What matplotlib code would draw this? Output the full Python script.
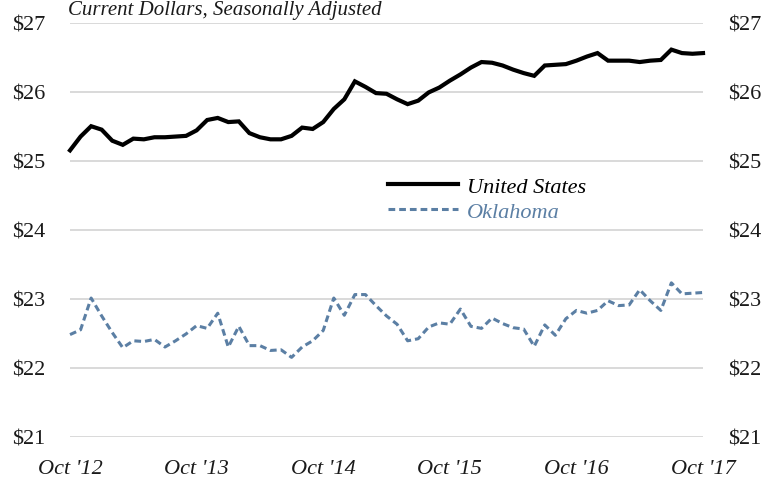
import numpy as np
import matplotlib.pyplot as plt

plt.rcParams['font.family'] = ['Liberation Serif', 'DejaVu Serif']

# monthly, Oct 2012 .. Oct 2017
months = np.arange(61)
us = [25.15, 25.35, 25.50, 25.45, 25.29, 25.23, 25.32, 25.31, 25.34, 25.34,
      25.35, 25.36, 25.44, 25.59, 25.62, 25.56, 25.57, 25.40, 25.34, 25.31,
      25.31, 25.36, 25.48, 25.46, 25.56, 25.75, 25.89, 26.15, 26.07, 25.98,
      25.97, 25.89, 25.82, 25.87, 25.99, 26.06, 26.16, 26.25, 26.35, 26.43,
      26.42, 26.38, 26.32, 26.27, 26.23, 26.38, 26.39, 26.40, 26.45, 26.51,
      26.56, 26.45, 26.45, 26.45, 26.43, 26.45, 26.46, 26.61, 26.56, 26.55,
      26.56]
ok = [22.48, 22.55, 23.01, 22.75, 22.51, 22.29, 22.39, 22.38, 22.41, 22.30,
      22.39, 22.49, 22.61, 22.57, 22.79, 22.30, 22.60, 22.32, 22.32, 22.25,
      22.26, 22.15, 22.30, 22.39, 22.54, 23.01, 22.76, 23.06, 23.06, 22.90,
      22.75, 22.63, 22.39, 22.42, 22.59, 22.65, 22.63, 22.85, 22.60, 22.57,
      22.72, 22.64, 22.58, 22.56, 22.31, 22.62, 22.47, 22.71, 22.83, 22.79,
      22.83, 22.97, 22.90, 22.91, 23.13, 22.97, 22.83, 23.23, 23.07, 23.08,
      23.09]
xtick_pos = [0, 12, 24, 36, 48, 60]
xtick_lab = ["Oct '12", "Oct '13", "Oct '14", "Oct '15", "Oct '16", "Oct '17"]
yticks = [21, 22, 23, 24, 25, 26, 27]

ok_color = '#5b7fa4'

fig = plt.figure(figsize=(7.62, 4.81), dpi=100)
ax = fig.add_axes([0.0919, 0.09, 0.8307, 0.8607])

ax.plot(months, us, color='black', lw=3, label='United States', clip_on=False,
        solid_joinstyle='miter')
ax.plot(months, ok, color=ok_color, lw=2.2, dashes=(2.2, 1.3),
        label='Oklahoma', clip_on=False)

ax.set_xlim(0, 60)
ax.set_ylim(21, 27)
ax.set_yticks(yticks)
ax.set_yticklabels(['$%d' % v for v in yticks])
ax.set_xticks(xtick_pos)
ax.set_xticklabels(xtick_lab, fontstyle='italic')
ax.grid(axis='y', color='#d9d9d9', lw=1.4)
ax.set_axisbelow(True)
for s in ax.spines.values():
    s.set_visible(False)
ax.tick_params(axis='both', length=0, labelsize=16, colors='#1a1a1a')
ax.tick_params(axis='y', pad=18, labelright=True)
ax.tick_params(axis='x', pad=16)

leg = ax.legend(loc='center left', bbox_to_anchor=(388 / 762, 1 - 200 / 481),
                bbox_transform=fig.transFigure, frameon=False,
                handlelength=3.15, handletextpad=0.4, labelspacing=0.22,
                borderpad=0, borderaxespad=0, prop={'style': 'italic', 'size': 16})
leg.get_texts()[1].set_color(ok_color)

fig.text(68 / 762, 1 - 15 / 481, 'Current Dollars, Seasonally Adjusted',
         fontsize=15, fontstyle='italic', va='baseline', ha='left',
         color='#1a1a1a')

fig.savefig('out.png', dpi=100)
